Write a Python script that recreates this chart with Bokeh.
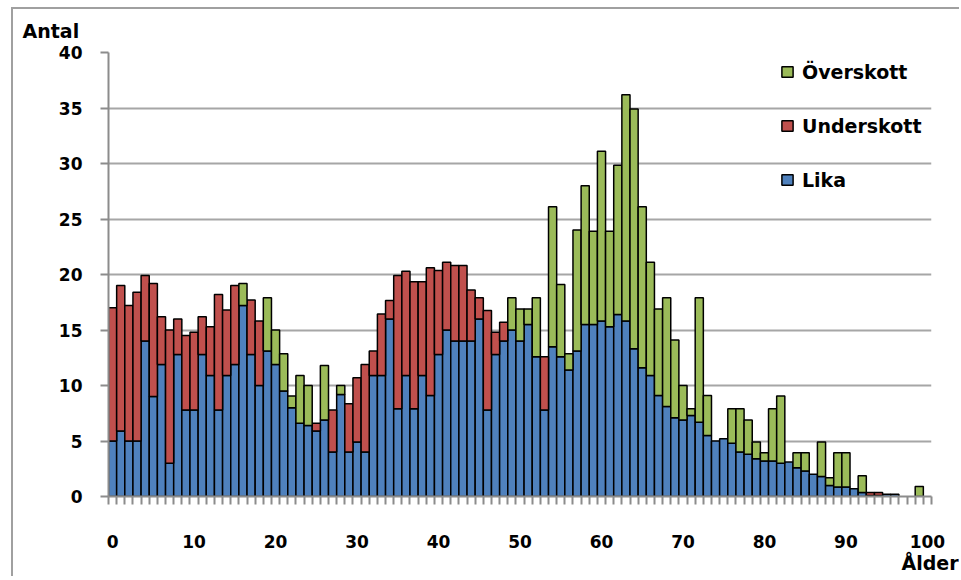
import numpy as np
from bokeh.plotting import figure
from bokeh.models import (Range1d, FixedTicker, Legend, LegendItem, Title)
from bokeh.embed import file_html
from bokeh.resources import INLINE

# ---------------- data ----------------
ages = list(range(0, 101))

lika = [5.0, 5.9, 5.0, 5.0, 14.0, 9.0, 11.9, 3.0, 12.8, 7.8,
        7.8, 12.8, 10.9, 7.8, 10.9, 11.9, 17.2, 12.8, 10.0, 13.1,
        11.9, 9.5, 8.0, 6.6, 6.4, 5.9, 6.9, 4.0, 9.2, 4.0,
        4.9, 4.0, 10.9, 10.9, 16.0, 7.9, 10.9, 7.9, 10.9, 9.1,
        12.8, 15.0, 14.0, 14.0, 14.0, 16.0, 7.8, 12.8, 14.0, 15.0,
        14.0, 15.5, 12.6, 7.8, 13.5, 12.6, 11.4, 13.1, 15.5, 15.5,
        15.8, 15.3, 16.4, 15.8, 13.3, 11.6, 10.9, 9.1, 8.1, 7.1,
        6.9, 7.3, 6.7, 5.5, 5.0, 5.2, 4.8, 4.0, 3.8, 3.4,
        3.2, 3.2, 3.0, 3.1, 2.6, 2.3, 2.0, 1.8, 1.0, 0.85,
        0.85, 0.7, 0.36, 0.1, 0.1, 0.2, 0.2, 0.0, 0.0, 0.0,
        0.0]

under = [12.0, 13.1, 12.2, 13.4, 5.9, 10.2, 4.3, 12.0, 3.2, 6.7,
         7.0, 3.4, 4.4, 10.4, 5.9, 7.1, 0.0, 4.9, 5.8, 0.0,
         0.0, 0.0, 0.0, 0.0, 0.0, 0.7, 0.0, 3.8, 0.0, 4.35,
         5.8, 7.9, 2.2, 5.55, 1.65, 12.0, 9.4, 11.45, 8.45, 11.5,
         7.55, 6.1, 6.8, 6.8, 4.6, 1.9, 8.95, 2.0, 1.7, 0.0,
         0.0, 0.0, 0.0, 4.8, 0.0, 0.0, 0.0, 0.0, 0.0, 0.0,
         0.0, 0.0, 0.0, 0.0, 0.0, 0.0, 0.0, 0.0, 0.0, 0.0,
         0.0, 0.0, 0.0, 0.0, 0.0, 0.0, 0.0, 0.0, 0.0, 0.0,
         0.0, 0.0, 0.0, 0.0, 0.0, 0.0, 0.0, 0.0, 0.0, 0.0,
         0.0, 0.0, 0.0, 0.26, 0.26, 0.0, 0.0, 0.0, 0.0, 0.0,
         0.0]

over = [0.0, 0.0, 0.0, 0.0, 0.0, 0.0, 0.0, 0.0, 0.0, 0.0,
        0.0, 0.0, 0.0, 0.0, 0.0, 0.0, 2.0, 0.0, 0.0, 4.8,
        3.1, 3.35, 1.05, 4.3, 3.6, 0.0, 4.9, 0.0, 0.8, 0.0,
        0.0, 0.0, 0.0, 0.0, 0.0, 0.0, 0.0, 0.0, 0.0, 0.0,
        0.0, 0.0, 0.0, 0.0, 0.0, 0.0, 0.0, 0.0, 0.0, 2.9,
        2.9, 1.4, 5.3, 0.0, 12.6, 6.5, 1.45, 10.9, 12.5, 8.4,
        15.3, 8.6, 13.45, 20.4, 21.6, 14.5, 10.2, 7.8, 9.8, 7.0,
        3.1, 0.6, 11.2, 3.6, 0.0, 0.0, 3.1, 3.9, 3.1, 1.5,
        0.75, 4.7, 6.05, 0.0, 1.35, 1.65, 0.0, 3.1, 0.7, 3.1,
        3.1, 0.0, 1.5, 0.0, 0.0, 0.0, 0.0, 0.0, 0.0, 0.9,
        0.0]

series_names = ["Lika", "Underskott", "Överskott"]
y_ticks = [0, 5, 10, 15, 20, 25, 30, 35, 40]
x_label_ticks = [0, 10, 20, 30, 40, 50, 60, 70, 80, 90, 100]
y_title = "Antal"
x_title = "Ålder"

# ---------------- styles ----------------
BLUE = "#4F81BD"
RED = "#C0504D"
GREEN = "#9BBB59"
GRID = "#a6a6a6"
AXIS = "#8c8c8c"
FONT = "DejaVu Sans"

L = np.array(lika, dtype=float)
U = np.array(under, dtype=float)
O = np.array(over, dtype=float)

lika_top = np.where(L > 0, L, np.nan)
under_bot = L
under_top = np.where(U > 0, L + U, np.nan)
over_bot = L + U
over_top = np.where(O > 0, L + U + O, np.nan)

p = figure(frame_width=823, frame_height=444,
           x_range=Range1d(-0.5, len(ages) - 0.5),
           y_range=Range1d(0, 40),
           output_backend="svg", toolbar_location=None,
           min_border_left=95, min_border_right=28,
           min_border_top=43, min_border_bottom=80)
p.outline_line_color = None
p.background_fill_color = "white"
p.border_fill_color = "white"
p.styles = {"margin-left": "11px", "margin-top": "7px",
            "border-left": "2px solid #a0a0a0",
            "border-top": "2px solid #a0a0a0"}

bar_kw = dict(width=1.0, line_color="black", line_width=1.5)
r_l = p.vbar(x=ages, bottom=0, top=lika_top, fill_color=BLUE, **bar_kw)
r_u = p.vbar(x=ages, bottom=under_bot, top=under_top, fill_color=RED, **bar_kw)
r_o = p.vbar(x=ages, bottom=over_bot, top=over_top, fill_color=GREEN, **bar_kw)

# grid
p.xgrid.visible = False
p.ygrid.ticker = FixedTicker(ticks=y_ticks)
p.ygrid.grid_line_color = GRID
p.ygrid.grid_line_width = 2

# y axis
yax = p.yaxis[0]
yax.ticker = FixedTicker(ticks=y_ticks)
yax.axis_line_color = AXIS
yax.axis_line_width = 2
yax.major_tick_line_color = AXIS
yax.major_tick_line_width = 2
yax.major_tick_out = 8
yax.major_tick_in = 0
yax.minor_tick_line_color = None
yax.major_label_standoff = 18
yax.major_label_text_font = FONT
yax.major_label_text_font_style = "bold"
yax.major_label_text_font_size = "17px"
yax.major_label_text_color = "black"

# x axis
xax = p.xaxis[0]
xax.ticker = FixedTicker(ticks=x_label_ticks,
                         minor_ticks=[a - 0.5 for a in ages] + [ages[-1] + 0.5])
xax.axis_line_color = AXIS
xax.axis_line_width = 2
xax.major_tick_line_color = None
xax.major_tick_out = 0
xax.major_tick_in = 0
xax.minor_tick_line_color = AXIS
xax.minor_tick_line_width = 2
xax.minor_tick_out = 8
xax.minor_tick_in = 0
xax.major_label_standoff = 30
xax.major_label_text_font = FONT
xax.major_label_text_font_style = "bold"
xax.major_label_text_font_size = "17px"
xax.major_label_text_color = "black"

# axis titles (as side-panel titles)
p.title.text = y_title
p.title.align = "left"
p.title.offset = -86
p.title.standoff = 18
p.title.vertical_align = "top"
p.title.text_font = FONT
p.title.text_font_style = "bold"
p.title.text_font_size = "19px"
p.title.text_color = "black"

p.add_layout(Title(text=x_title, align="right", offset=-27, standoff=0,
                   vertical_align="middle", text_font=FONT,
                   text_font_style="bold", text_font_size="19px",
                   text_color="black"), "below")

legend = Legend(items=[LegendItem(label=series_names[2], renderers=[r_o]),
                       LegendItem(label=series_names[1], renderers=[r_u]),
                       LegendItem(label=series_names[0], renderers=[r_l])],
                location=(672, 305), orientation="vertical",
                glyph_width=14, glyph_height=13, label_standoff=8,
                label_height=23, spacing=31, padding=0, margin=0,
                border_line_color=None, background_fill_alpha=0,
                label_text_font=FONT, label_text_font_style="bold",
                label_text_font_size="19px", label_text_color="black")
p.add_layout(legend)

open("out.html", "w").write(file_html(p, INLINE))
